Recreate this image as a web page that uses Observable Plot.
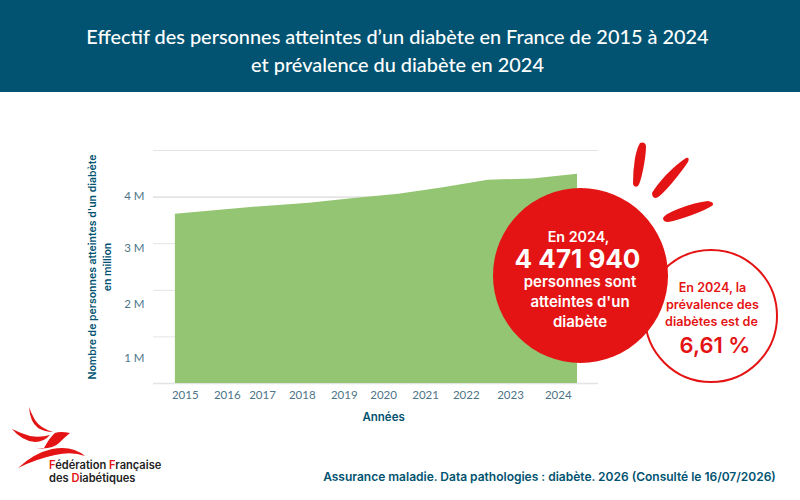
<!DOCTYPE html>
<html lang="fr"><head><meta charset="utf-8">
<script src="https://cdn.jsdelivr.net/npm/d3@7"></script>
<script src="https://cdn.jsdelivr.net/npm/@observablehq/plot@0.6"></script>
<style>
html,body{margin:0;padding:0;background:#fff;width:800px;height:500px;overflow:hidden}
#head{height:92px;background:#015371;color:#fff;box-sizing:border-box;padding:22px 5px 0 0;text-align:center;font:500 19.9px/28px Lato,sans-serif}
#chart{position:absolute;left:0;top:92px}
#over{position:absolute;left:0;top:0}
#over text{font-family:Inter,sans-serif;text-anchor:middle}
</style></head><body>
<div id="head">Effectif des personnes atteintes d’un diabète en France de 2015 à 2024<br>et prévalence du diabète en 2024</div>
<div id="chart"></div>
<svg id="over" width="800" height="500" viewBox="0 0 800 500">
  <circle cx="711" cy="316" r="66" fill="#fff" stroke="#e41414" stroke-width="2"/>
  <circle cx="580.5" cy="275.5" r="87.5" fill="#e41414"/>
  <path d="M640 143Q645 141 646 146Q646 155 643 170Q640 184 638 186Q634 188 633 184Q633 170 635 158Q637 148 640 143Z" fill="#e41414"/>
  <path d="M686 158Q690 157 688 162Q682 171 672 183Q660 197 656 198Q652 198 652 193Q656 186 666 175Q678 163 686 158Z" fill="#e41414"/>
  <path d="M708 201Q714 202 713 205Q708 209 692 215Q675 221 668 222Q663 222 663 218Q665 214 678 209Q696 202 708 201Z" fill="#e41414"/>
  <g fill="#fff" font-weight="600">
    <text x="578.5" y="242" font-size="14.3">En 2024,</text>
    <text x="577.5" y="268" font-size="26" font-weight="700">4 471 940</text>
    <text x="580" y="286.5" font-size="15">personnes sont</text>
    <text x="580" y="306.5" font-size="15">atteintes d'un</text>
    <text x="580" y="327" font-size="15">diabète</text>
  </g>
  <g fill="#e41414" font-weight="600">
    <text x="712.5" y="292" font-size="12.6">En 2024, la</text>
    <text x="712.5" y="309" font-size="12.6">prévalence des</text>
    <text x="711.5" y="326" font-size="12.6">diabètes est de</text>
    <text x="715" y="353" font-size="22">6,61 %</text>
  </g>
  <text x="549.5" y="481" font-size="12" font-weight="600" fill="#015371">Assurance maladie. Data pathologies : diabète. 2026 (Consulté le 16/07/2026)</text>
  <g fill="#e41414">
    <path d="M29 407Q30 422 38 428Q45 432 53 432Q40 428 35 420Q31 413 29 407Z"/>
    <path d="M12 429Q22 441 35 442Q44 442 50 435Q40 438 30 436Q20 433 12 429Z"/>
    <path d="M70 433Q60 431 55 433Q50 437 44 448L36 448Q52 450 59 443Q65 437 70 433Z"/>
    <path d="M18 468Q34 453 52 449Q72 445 85 456Q72 451 55 455Q36 459 18 468Z"/>
  </g>
  <g style="font-size:11.1px;font-weight:600" fill="#222">
    <text x="49" y="469" style="text-anchor:start"><tspan fill="#e41414">F</tspan>édération <tspan fill="#e41414">F</tspan>rançaise</text>
    <text x="49" y="482" style="text-anchor:start">des <tspan fill="#e41414">D</tspan>iabétiques</text>
  </g>
</svg>
<script>
const years = [2015,2016,2017,2018,2019,2020,2021,2022,2023,2024];
const people = [3.63,3.72,3.80,3.87,3.97,4.06,4.20,4.36,4.39,4.49];
const gridLines = [0,1,2,3,4,5];
const xLabels = ["2015","2016","2017","2018","2019","2020","2021","2022","2023","2024"];
const xLabelAt = [2015.22,2016.16,2016.95,2017.84,2018.78,2019.66,2020.6,2021.51,2022.5,2023.57];
const yLabels = ["1 M","2 M","3 M","4 M"];
const yLabelAt = [0.53,1.7,2.9,4.01];
const table = years.map((year,i)=>({year,value:people[i]}));
const ink="#015371", tick="#4d7488";
const plot = Plot.plot({
  width:800,height:408,marginLeft:153,marginRight:202,marginTop:58,marginBottom:117,
  style:{background:"transparent",fontFamily:"Lato,sans-serif"},
  x:{domain:[2014.51,2024.47],axis:null},
  y:{domain:[0,5],axis:null},
  marks:[
    Plot.ruleY(gridLines,{stroke:"#e4e4e4",strokeWidth:d=>(d===0||d===4)?1.6:1}),
    Plot.areaY(table,{x:"year",y:"value",fill:"#93c572",curve:"linear"}),
    Plot.text(xLabels,{x:(d,i)=>xLabelAt[i],y:()=>0,text:d=>d,dy:12,fontSize:11.5,fill:tick}),
    Plot.text(yLabels,{y:(d,i)=>yLabelAt[i],x:()=>2014.51,text:d=>d,dx:-9,textAnchor:"end",fontSize:11.5,fill:tick}),
    Plot.text(["Années"],{x:()=>2019.66,y:()=>0,text:d=>d,dy:34,fontSize:11.5,fontWeight:600,fontFamily:"Inter,sans-serif",fill:ink}),
    Plot.text(["Nombre de personnes atteintes d'un diabète\nen million"],{frameAnchor:"left",textAnchor:"middle",rotate:-90,dx:-55,text:d=>d,fontSize:10.5,fontWeight:600,fontFamily:"Inter,sans-serif",fill:ink,lineHeight:1.4})
  ]
});
document.getElementById("chart").append(plot);
</script>
</body></html>
